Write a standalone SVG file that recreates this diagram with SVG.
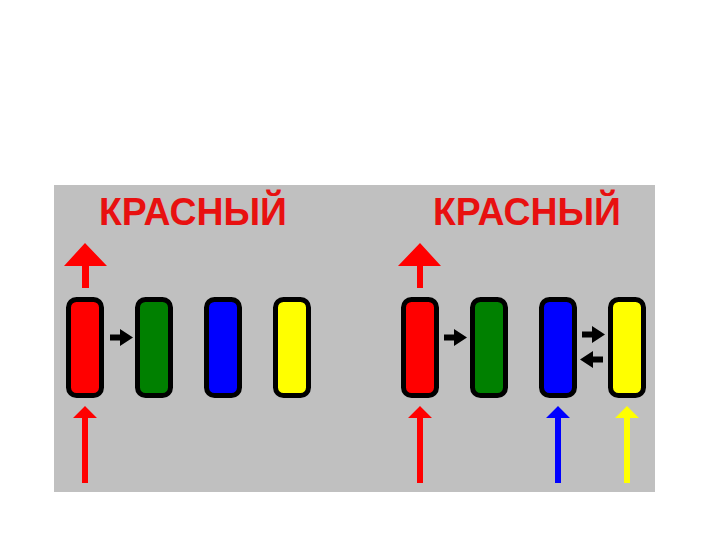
<svg xmlns="http://www.w3.org/2000/svg" width="720" height="540" viewBox="0 0 720 540">
<style>
.node{stroke:#000;stroke-width:5}
.lbl{font-family:"Liberation Sans",Arial,sans-serif;font-weight:bold;font-size:38px;fill:#e81010}
.blk{fill:#000}
</style>
<rect width="720" height="540" fill="#fff"/>
<rect x="54" y="185" width="601" height="307" fill="#c0c0c0"/>
<text class="lbl" x="99" y="225" textLength="188" lengthAdjust="spacingAndGlyphs">КРАСНЫЙ</text>
<text class="lbl" x="433" y="225" textLength="188" lengthAdjust="spacingAndGlyphs">КРАСНЫЙ</text>
<g id="n-l-red"><rect class="node" x="68.5" y="299.5" width="33" height="96" rx="8" fill="#ff0000"/></g>
<g id="n-l-green"><rect class="node" x="137.5" y="299.5" width="33" height="96" rx="8" fill="#008000"/></g>
<g id="n-l-blue"><rect class="node" x="206.5" y="299.5" width="33" height="96" rx="8" fill="#0000ff"/></g>
<g id="n-l-yellow"><rect class="node" x="275.5" y="299.5" width="33" height="96" rx="8" fill="#ffff00"/></g>
<g id="n-r-red"><rect class="node" x="403.5" y="299.5" width="33" height="96" rx="8" fill="#ff0000"/></g>
<g id="n-r-green"><rect class="node" x="472.5" y="299.5" width="33" height="96" rx="8" fill="#008000"/></g>
<g id="n-r-blue"><rect class="node" x="541.5" y="299.5" width="33" height="96" rx="8" fill="#0000ff"/></g>
<g id="n-r-yellow"><rect class="node" x="610.5" y="299.5" width="33" height="96" rx="8" fill="#ffff00"/></g>
<g id="connectors">
<path d="M82 288 V266 H64 L85 243 L107 266 H89 V288 Z" fill="#ff0000"/>
<path d="M417 288 V266 H398 L420 243 L441 266 H423 V288 Z" fill="#ff0000"/>
<path d="M82 483 V418 H73 L85 406 L97 418 H88 V483 Z" fill="#ff0000"/>
<path d="M417 483 V418 H408 L420 406 L432 418 H423 V483 Z" fill="#ff0000"/>
<path d="M555 483 V418 H546 L558 406 L570 418 H561 V483 Z" fill="#0000ff"/>
<path d="M624 483 V418 H615 L627 406 L639 418 H630 V483 Z" fill="#ffff00"/>
<path class="blk" d="M110 334.5 H120 V329 L133 337.5 L120 346 V340.5 H110 Z"/>
<path class="blk" d="M444 334.5 H454 V329 L467 337.5 L454 346 V340.5 H444 Z"/>
<path class="blk" d="M582 331.5 H592 V326 L605 334.5 L592 343 V337.5 H582 Z"/>
<path class="blk" d="M603 356.5 H593 V351 L580 359.5 L593 368 V362.5 H603 Z"/>
</g>
</svg>
